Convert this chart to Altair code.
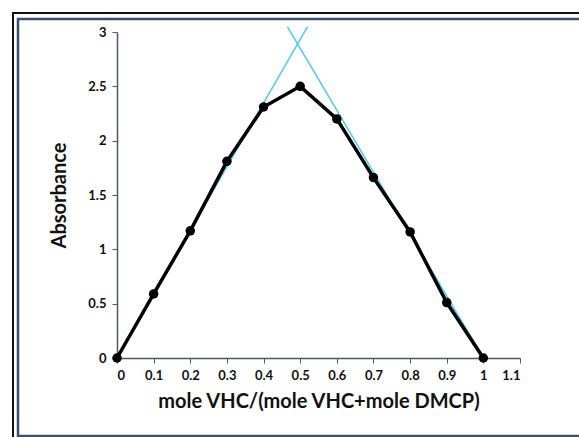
import altair as alt
import pandas as pd

# Job's method data
mole_fraction = [0.0, 0.1, 0.2, 0.3, 0.4, 0.5, 0.6, 0.7, 0.8, 0.9, 1.0]
absorbance = [0.0, 0.59, 1.17, 1.81, 2.31, 2.50, 2.20, 1.66, 1.16, 0.51, 0.0]

# extrapolated tangent lines
left_x = [0.0, 0.52]
left_y = [0.0, 3.05]
right_x = [1.0, 0.465]
right_y = [0.0, 3.05]

x_ticks = [0, 0.1, 0.2, 0.3, 0.4, 0.5, 0.6, 0.7, 0.8, 0.9, 1.0, 1.1]
y_ticks = [0, 0.5, 1, 1.5, 2, 2.5, 3]

df = pd.DataFrame({"x": mole_fraction, "y": absorbance})
tan = pd.DataFrame({
    "x": left_x + right_x,
    "y": left_y + right_y,
    "line": ["left", "left", "right", "right"],
})

FONT = "Lato"

xscale = alt.Scale(domain=[0, 1.1], nice=False)
yscale = alt.Scale(domain=[0, 3], nice=False)

xaxis = alt.Axis(
    title="mole VHC/(mole VHC+mole DMCP)", values=x_ticks, format="~g",
    grid=False, domainColor="#4a5a6a", domainWidth=1.5, tickColor="#4a5a6a",
    tickSize=5, labelPadding=6, labelFont=FONT, labelFontSize=13,
    labelFontWeight="bold", labelColor="#111", titleFont=FONT,
    titleFontSize=20, titleFontWeight="bold", titleColor="#111",
    titlePadding=9,
)
yaxis = alt.Axis(
    title="Absorbance", values=y_ticks, format="~g",
    grid=False, domainColor="#4a5a6a", domainWidth=1.5, tickColor="#4a5a6a",
    tickSize=5, labelPadding=6, labelFont=FONT, labelFontSize=13,
    labelFontWeight="bold", labelColor="#111", titleFont=FONT,
    titleFontSize=20, titleFontWeight="bold", titleColor="#111",
    titlePadding=18,
)

# decorative double frame
frame_outer = alt.Chart(pd.DataFrame({"a": [0]})).mark_rect(
    fill=None, stroke="#111", strokeWidth=2, clip=False
).encode(x=alt.value(-104), x2=alt.value(520), y=alt.value(-19), y2=alt.value(440))
frame_inner = alt.Chart(pd.DataFrame({"a": [0]})).mark_rect(
    fill=None, stroke="#3a5070", strokeWidth=2.5, clip=False
).encode(x=alt.value(-99), x2=alt.value(520), y=alt.value(-13), y2=alt.value(404))

tangents = alt.Chart(tan).mark_line(
    color="#5cc8ea", strokeWidth=1.6, clip=False
).encode(
    x=alt.X("x:Q", scale=xscale, axis=xaxis),
    y=alt.Y("y:Q", scale=yscale, axis=yaxis),
    detail="line:N",
)

line = alt.Chart(df).mark_line(color="#000", strokeWidth=3.5).encode(
    x=alt.X("x:Q", scale=xscale, axis=xaxis),
    y=alt.Y("y:Q", scale=yscale, axis=yaxis),
)
pts = alt.Chart(df).mark_circle(color="#000", size=90, opacity=1).encode(
    x=alt.X("x:Q", scale=xscale, axis=xaxis),
    y=alt.Y("y:Q", scale=yscale, axis=yaxis),
)

chart = alt.layer(frame_outer, frame_inner, tangents, line, pts).properties(
    width=403, height=326,
    autosize=alt.AutoSizeParams(type="none"),
    padding={"left": 117, "top": 32, "right": 59, "bottom": 79},
    background="white",
).configure_view(stroke=None)

chart.save("out.html", embed_options={"renderer": "svg", "actions": False})
